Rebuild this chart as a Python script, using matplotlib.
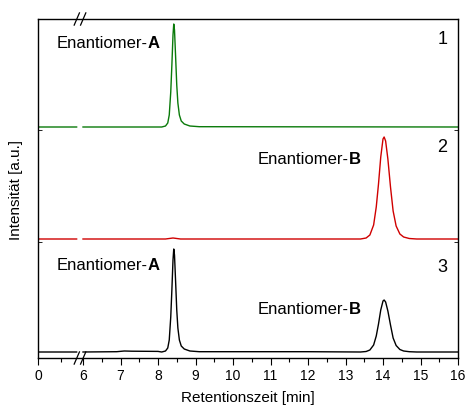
import numpy as np
import matplotlib
matplotlib.use("Agg")
import matplotlib.pyplot as plt

plt.rcParams['font.family'] = ['Liberation Sans', 'DejaVu Sans']

# === DATA (intensity in arbitrary units) =======================================
# sharp peak of enantiomer A (t in min, intensity above baseline)
peakA_t = [8.10, 8.20, 8.26, 8.30, 8.34, 8.37, 8.40, 8.42, 8.44, 8.47, 8.50,
           8.53, 8.57, 8.62, 8.70, 8.85, 9.10]
peakA_y = [0.0, 1.0, 4.0, 12.0, 35.0, 62.0, 92.0, 103.0, 97.0, 70.0, 42.0,
           24.0, 12.0, 6.0, 3.0, 1.0, 0.3]

# broader peak of enantiomer B (trace 2, full height)
peakB_t = [13.40, 13.55, 13.65, 13.75, 13.82, 13.88, 13.94, 14.00, 14.03, 14.07,
           14.13, 14.20, 14.27, 14.35, 14.45, 14.55, 14.70, 14.90]
peakB_y = [0.0, 1.0, 4.0, 14.0, 32.0, 55.0, 82.0, 100.0, 102.0, 98.0,
           80.0, 52.0, 28.0, 13.0, 5.0, 2.0, 0.5, 0.0]

# enantiomer B in trace 3 (about half as high)
peakB3_y = [0.0, 0.5, 2.0, 7.0, 16.0, 28.0, 42.0, 51.0, 52.0, 50.0,
            41.0, 27.0, 14.0, 6.5, 2.5, 1.0, 0.3, 0.0]

# baselines: left part ends before the axis break, right part starts at 6 min
left_t = [0.0, 5.15]
right_start = 6.0
end_t = 16.0

# small baseline features
trace3_bump_t = [6.0, 6.9, 7.1, 7.3, 8.0]
trace3_bump_y = [0.0, 0.3, 1.0, 0.8, 0.6]
trace2_bump_t = [6.0, 8.2, 8.4, 8.6]
trace2_bump_y = [0.0, 0.0, 1.0, 0.0]

# vertical offsets of the stacked traces
offset1 = 231.0
offset2 = 119.0
offset3 = 6.0

labels = ["1", "2", "3"]
xticks = [0, 6, 7, 8, 9, 10, 11, 12, 13, 14, 15, 16]
xminor = [3, 6.5, 7.5, 8.5, 9.5, 10.5, 11.5, 12.5, 13.5, 14.5, 15.5]
break_t = 5.6


# === BROKEN X SCALE ==========================================================
def fwd(t):
    t = np.asarray(t, dtype=float)
    return np.where(t <= 6, t * 0.2, 1.2 + (t - 6))


def inv(u):
    u = np.asarray(u, dtype=float)
    return np.where(u <= 1.2, u / 0.2, 6 + (u - 1.2))


def build(parts):
    # left baseline, gap at the break, then the given segments up to the end
    t = list(left_t) + [np.nan]
    y = [0.0, 0.0] + [np.nan]
    for pt, py in parts:
        t += list(pt)
        y += list(py)
    t.append(end_t)
    y.append(0.0)
    return np.array(t), np.array(y)


t1, y1 = build([([right_start], [0.0]), (peakA_t, peakA_y)])
t2, y2 = build([(trace2_bump_t, trace2_bump_y), (peakB_t, peakB_y)])
t3, y3 = build([(trace3_bump_t, trace3_bump_y), (peakA_t, peakA_y),
                ([12.0], [0.3]), (peakB_t, peakB3_y)])

# === PLOT ====================================================================
fig = plt.figure(figsize=(4.66, 4.07), dpi=100)
ax = fig.add_axes([38 / 466, 1 - 358 / 407, 420 / 466, 339 / 407])
ax.set_xscale('function', functions=(fwd, inv))

ax.plot(t1, y1 + offset1, color='#0a7a0a', lw=1.0)
ax.plot(t2, y2 + offset2, color='#d00000', lw=1.0)
ax.plot(t3, y3 + offset3, color='black', lw=1.0)

ax.set_xlim(0, 16)
ax.set_ylim(0, 339)
ax.set_xticks(xticks)
ax.set_xticklabels([str(v) for v in xticks])
ax.set_xticks(xminor, minor=True)
ax.tick_params(axis='x', which='major', direction='out', length=5, width=0.8,
               labelsize=10, pad=3)
ax.tick_params(axis='x', which='minor', direction='out', length=3, width=0.8)
ax.set_yticks([offset2 - 3, offset1 - 3])
ax.set_yticklabels([])
ax.tick_params(axis='y', direction='in', length=3, width=0.6, left=True, right=True)
for s in ax.spines.values():
    s.set_linewidth(1.0)

# break marks "//" on the top and bottom spine
xc = float(fwd(break_t))
for yb in (0, 1):
    for dx in (-0.085, 0.085):
        xb = xc + dx
        ax.plot([inv(xb - 0.07), inv(xb + 0.07)], [yb - 0.018, yb + 0.018],
                transform=ax.get_xaxis_transform(), color='black', lw=0.9,
                clip_on=False)


# annotations: "Enantiomer-" regular, letter bold right after it
def label(x, y, name):
    t = ax.text(x, y, "Enantiomer-", fontsize=12, va='center', ha='left')
    ax.annotate(name, xy=(1, 0), xycoords=t, fontsize=12, fontweight='bold',
                va='bottom', ha='left')


label(2.5, 315, "A")
label(10.65, 198, "B")
label(2.5, 93, "A")
label(10.65, 48, "B")

ax.text(15.45, 318, labels[0], fontsize=13, va='center', ha='left')
ax.text(15.45, 210, labels[1], fontsize=13, va='center', ha='left')
ax.text(15.45, 91, labels[2], fontsize=13, va='center', ha='left')

fig.text(248 / 466, 1 - 398 / 407, "Retentionszeit [min]", fontsize=11,
         ha='center', va='center')
fig.text(16 / 466, 1 - 190 / 407, "Intensität [a.u.]", fontsize=11,
         ha='center', va='center', rotation=90)

fig.savefig("out.png", dpi=100)
